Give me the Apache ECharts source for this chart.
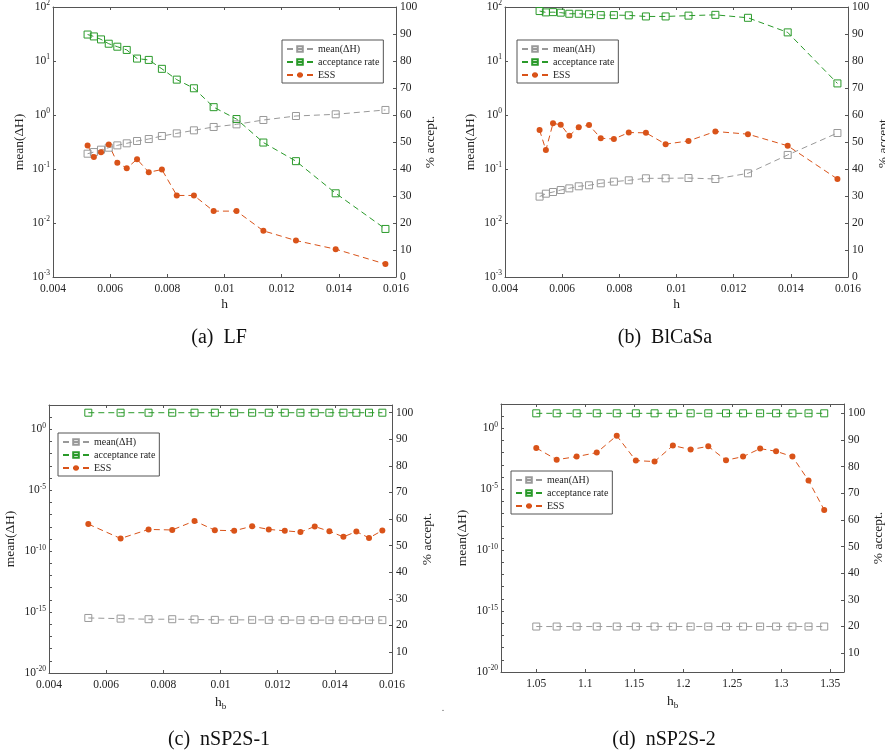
<!DOCTYPE html>
<html><head><meta charset="utf-8">
<script src="https://cdn.jsdelivr.net/npm/echarts@6/dist/echarts.min.js"></script>
<style>html,body{margin:0;padding:0;background:#fff}#c{width:885px;height:755px}</style>
</head><body><div id="c"></div>
<script>
// ---------- data ----------
const seriesNames = ['mean(ΔH)', 'acceptance rate', 'ESS'];

// (a) LF
const hA = [0.00521,0.00543,0.00568,0.00595,0.00625,0.00658,0.00694,0.00735,0.00781,0.00833,0.00893,0.00962,0.01042,0.01136,0.0125,0.01389,0.01563];
const meanA = [0.192,0.206,0.228,0.248,0.274,0.299,0.330,0.359,0.408,0.457,0.520,0.600,0.671,0.808,0.958,1.03,1.24];
const accA = [89.8,89.1,88.0,86.4,85.3,84.1,80.9,80.4,77.1,73.1,69.9,62.9,58.5,49.8,42.9,31.0,17.8];
const essA = [48.7,44.4,46.2,49.1,42.3,40.3,43.6,38.8,39.8,30.2,30.2,24.4,24.4,17.1,13.5,10.3,4.8];

// (b) BlCaSa
const hB = [0.00521,0.00543,0.00568,0.00595,0.00625,0.00658,0.00694,0.00735,0.00781,0.00833,0.00893,0.00962,0.01042,0.01136,0.0125,0.01389,0.01563];
const meanB = [0.0308,0.0349,0.0375,0.0408,0.0438,0.0478,0.0499,0.0543,0.0583,0.0617,0.0672,0.0672,0.0681,0.0653,0.0832,0.182,0.464];
const accB = [98.5,98.0,98.1,97.9,97.5,97.5,97.3,97.0,97.0,96.9,96.5,96.5,96.8,97.1,96.0,90.6,71.7];
const essB = [54.4,47.0,56.9,56.4,52.3,55.5,56.3,51.4,51.1,53.5,53.4,49.2,50.4,53.9,52.9,48.6,36.3];

// (c) nSP2S-1
const hC = [0.005375,0.006505,0.007483,0.008311,0.009091,0.009802,0.010478,0.011107,0.011689,0.012249,0.012796,0.013297,0.01381,0.0143,0.014753,0.015196,0.015662];
const meanC = [3.3e-16,2.9e-16,2.6e-16,2.6e-16,2.5e-16,2.3e-16,2.3e-16,2.3e-16,2.3e-16,2.2e-16,2.2e-16,2.2e-16,2.2e-16,2.2e-16,2.2e-16,2.2e-16,2.2e-16];
const accC = [100,100,100,100,100,100,100,100,100,100,100,100,100,100,100,100,100];
const essC = [58.1,52.7,56.1,55.9,59.3,55.8,55.6,57.3,56.1,55.6,55.1,57.2,55.4,53.3,55.3,52.9,55.7];

// (d) nSP2S-2
const hD = [1.05,1.0708,1.0912,1.1117,1.1321,1.1516,1.1707,1.1894,1.2075,1.2255,1.2436,1.261,1.2784,1.2947,1.3114,1.3278,1.3438];
const meanD = [5.4e-17,5.4e-17,5.4e-17,5.4e-17,5.4e-17,5.4e-17,5.4e-17,5.4e-17,5.4e-17,5.4e-17,5.4e-17,5.4e-17,5.4e-17,5.4e-17,5.4e-17,5.4e-17,5.4e-17];
const accD = [100,100,100,100,100,100,100,100,100,100,100,100,100,100,100,100,100];
const essD = [87.0,82.6,83.75,85.25,91.6,82.25,81.9,87.9,86.4,87.6,82.4,83.75,86.75,85.75,83.75,74.75,63.75];

// tick labels
const xTicksLF = [0.004,0.006,0.008,0.01,0.012,0.014,0.016];
const xTicksD = [1.05,1.1,1.15,1.2,1.25,1.3,1.35];
const pctTicks = [10,20,30,40,50,60,70,80,90,100];
const logLabelsCD = [1e-20,1e-15,1e-10,1e-5,1];
const logTicksCD = [1e-20,1e-19,1e-18,1e-17,1e-16,1e-15,1e-14,1e-13,1e-12,1e-11,1e-10,1e-9,1e-8,1e-7,1e-6,1e-5,1e-4,1e-3,1e-2,1e-1,1,10];
const captions = ['(a)  LF', '(b)  BlCaSa', '(c)  nSP2S-1', '(d)  nSP2S-2'];

// ---------- style ----------
const FONT = 'Liberation Serif';
const AX = '#555555';
const TXT = '#222222';
const GRAY = '#999999';
const GREEN = '#2a9a2a';
const ORANGE = '#d95319';

const panels = [
  {grid:{left:53, top:7, width:343, height:270}, x:hA, mean:meanA, acc:accA, ess:essA,
   xmin:0.004, xmax:0.016, xInterval:0.002, ymin:1e-3, ymax:1e2, rmin:0, rmax:100, xname:'h',
   lgap:27, rgap:27, legend:{left:282, top:40}},
  {grid:{left:505, top:7, width:343, height:270}, x:hB, mean:meanB, acc:accB, ess:essB,
   xmin:0.004, xmax:0.016, xInterval:0.002, ymin:1e-3, ymax:1e2, rmin:0, rmax:100, xname:'h',
   lgap:28, rgap:28, legend:{left:517, top:40}},
  {grid:{left:49, top:405, width:343, height:268}, x:hC, mean:meanC, acc:accC, ess:essC,
   xmin:0.004, xmax:0.016, xInterval:0.002, ymin:1e-20, ymax:1e2, rmin:2.1, rmax:102.9, xname:'hb',
   lgap:32, rgap:28, legend:{left:58, top:433}, cd:true},
  {grid:{left:501, top:404, width:343, height:268}, x:hD, mean:meanD, acc:accD, ess:essD,
   xmin:1.014, xmax:1.364, xCustom:xTicksD, ymin:1e-20, ymax:1e2, rmin:2.9, rmax:103.5, xname:'hb',
   lgap:32, rgap:27, legend:{left:511, top:471}, cd:true},
];

const grids = [], xAxes = [], yAxes = [], series = [], legends = [];
const zip = (a, b) => a.map((v, i) => [v, b[i]]);
const lineAx = {show:true, onZero:false, lineStyle:{color:AX, width:1}};
const tickIn = {show:true, inside:true, length:3, lineStyle:{color:AX, width:1}};
const lbl = {fontFamily:FONT, fontSize:11.5, color:TXT};

panels.forEach((p, i) => {
  grids.push(Object.assign({containLabel:false, outerBoundsMode:'none'}, p.grid));
  const xBase = {type:'value', gridIndex:i, min:p.xmin, max:p.xmax, splitLine:{show:false}};
  if (p.xInterval) xBase.interval = p.xInterval;
  const xb = Object.assign({}, xBase, {
    position:'bottom', axisLine:lineAx,
    axisTick: Object.assign({}, tickIn, p.xCustom ? {customValues:p.xCustom} : {}),
    axisLabel: Object.assign({}, lbl, {margin:6, formatter: v => String(+(+v).toFixed(4))}, p.xCustom ? {customValues:p.xCustom} : {}),
    name: p.xname === 'h' ? 'h' : '{h|h}{b|b}', nameLocation:'middle', nameGap:20,
    nameTextStyle:{fontFamily:FONT, fontSize:13.5, color:TXT,
      rich:{h:{fontFamily:FONT, fontSize:13.5, color:TXT}, b:{fontFamily:FONT, fontSize:9, color:TXT, padding:[9,0,0,0]}}}
  });
  const xt = Object.assign({}, xBase, {
    position:'top', axisLine:lineAx,
    axisTick: Object.assign({}, tickIn, p.xCustom ? {customValues:p.xCustom} : {}),
    axisLabel:{show:false}
  });
  xAxes.push(xb, xt);

  const yl = {
    type:'log', logBase:10, gridIndex:i, position:'left', min:p.ymin, max:p.ymax,
    axisLine:lineAx, splitLine:{show:false},
    axisTick: Object.assign({}, tickIn, p.cd ? {customValues:logTicksCD} : {}),
    axisLabel: Object.assign({margin:3,
      formatter: v => '{b|10}{s|' + Math.round(Math.log10(v)) + '}',
      rich:{b:{fontFamily:FONT, fontSize:11.5, color:TXT}, s:{fontFamily:FONT, fontSize:7.5, color:TXT, padding:[0,0,7,0]}}
    }, p.cd ? {customValues:logLabelsCD} : {}),
    name:'mean(ΔH)', nameLocation:'middle', nameGap:p.lgap, nameRotate:90,
    nameTextStyle:{fontFamily:FONT, fontSize:13.5, color:TXT}
  };
  const yr = {
    type:'value', gridIndex:i, position:'right', min:p.rmin, max:p.rmax,
    axisLine:lineAx, splitLine:{show:false},
    axisTick: Object.assign({}, tickIn, p.cd ? {customValues:pctTicks} : {}),
    axisLabel: Object.assign({}, lbl, {margin:4}, p.cd ? {customValues:pctTicks} : {}),
    name:'% accept.', nameLocation:'middle', nameGap:p.rgap, nameRotate:90,
    nameTextStyle:{fontFamily:FONT, fontSize:13.5, color:TXT}
  };
  if (!p.cd) yr.interval = 10;
  yAxes.push(yl, yr);

  const common = {type:'line', xAxisIndex:2*i, animation:false, emphasis:{disabled:true}, silent:true};
  series.push(Object.assign({}, common, {
    name:seriesNames[0], yAxisIndex:2*i, data:zip(p.x, p.mean),
    symbol:'rect', symbolSize:7,
    lineStyle:{color:GRAY, width:1, type:[6,4]},
    itemStyle:{color:'rgba(255,255,255,0)', borderColor:GRAY, borderWidth:1}
  }));
  series.push(Object.assign({}, common, {
    name:seriesNames[1], yAxisIndex:2*i+1, data:zip(p.x, p.acc),
    symbol:'rect', symbolSize:7,
    lineStyle:{color:GREEN, width:1, type:[6,4]},
    itemStyle:{color:'rgba(255,255,255,0)', borderColor:GREEN, borderWidth:1}
  }));
  series.push(Object.assign({}, common, {
    name:seriesNames[2], yAxisIndex:2*i+1, data:zip(p.x, p.ess),
    symbol:'circle', symbolSize:6,
    lineStyle:{color:ORANGE, width:1, type:[6,4]},
    itemStyle:{color:ORANGE, borderColor:ORANGE, borderWidth:0}
  }));

  legends.push({
    left:p.legend.left, top:p.legend.top, orient:'vertical', data:seriesNames,
    itemWidth:26, itemHeight:7, itemGap:1, padding:[3,4,2,4],
    borderColor:'#555', borderWidth:1, borderRadius:0, backgroundColor:'#fff',
    selectedMode:false,
    textStyle:{fontFamily:FONT, fontSize:10, color:TXT, lineHeight:12}
  });
});

const capPos = [[219,338],[665,338],[219,740],[664,740]];
const graphics = captions.map((t, i) => ({
  type:'text', x:capPos[i][0], y:capPos[i][1],
  style:{text:t, font:'20px "Liberation Serif"', fill:'#111', align:'center', verticalAlign:'middle', textAlign:'center', textVerticalAlign:'middle'}
}));
graphics.push({type:'text', x:443, y:708, style:{text:'.', font:'10px "Liberation Serif"', fill:'#555', align:'center', verticalAlign:'middle'}});

const chart = echarts.init(document.getElementById('c'), null, {renderer:'canvas'});
chart.setOption({
  animation:false, backgroundColor:'#fff',
  grid:grids, xAxis:xAxes, yAxis:yAxes, series:series, legend:legends, graphic:graphics
});
</script></body></html>
